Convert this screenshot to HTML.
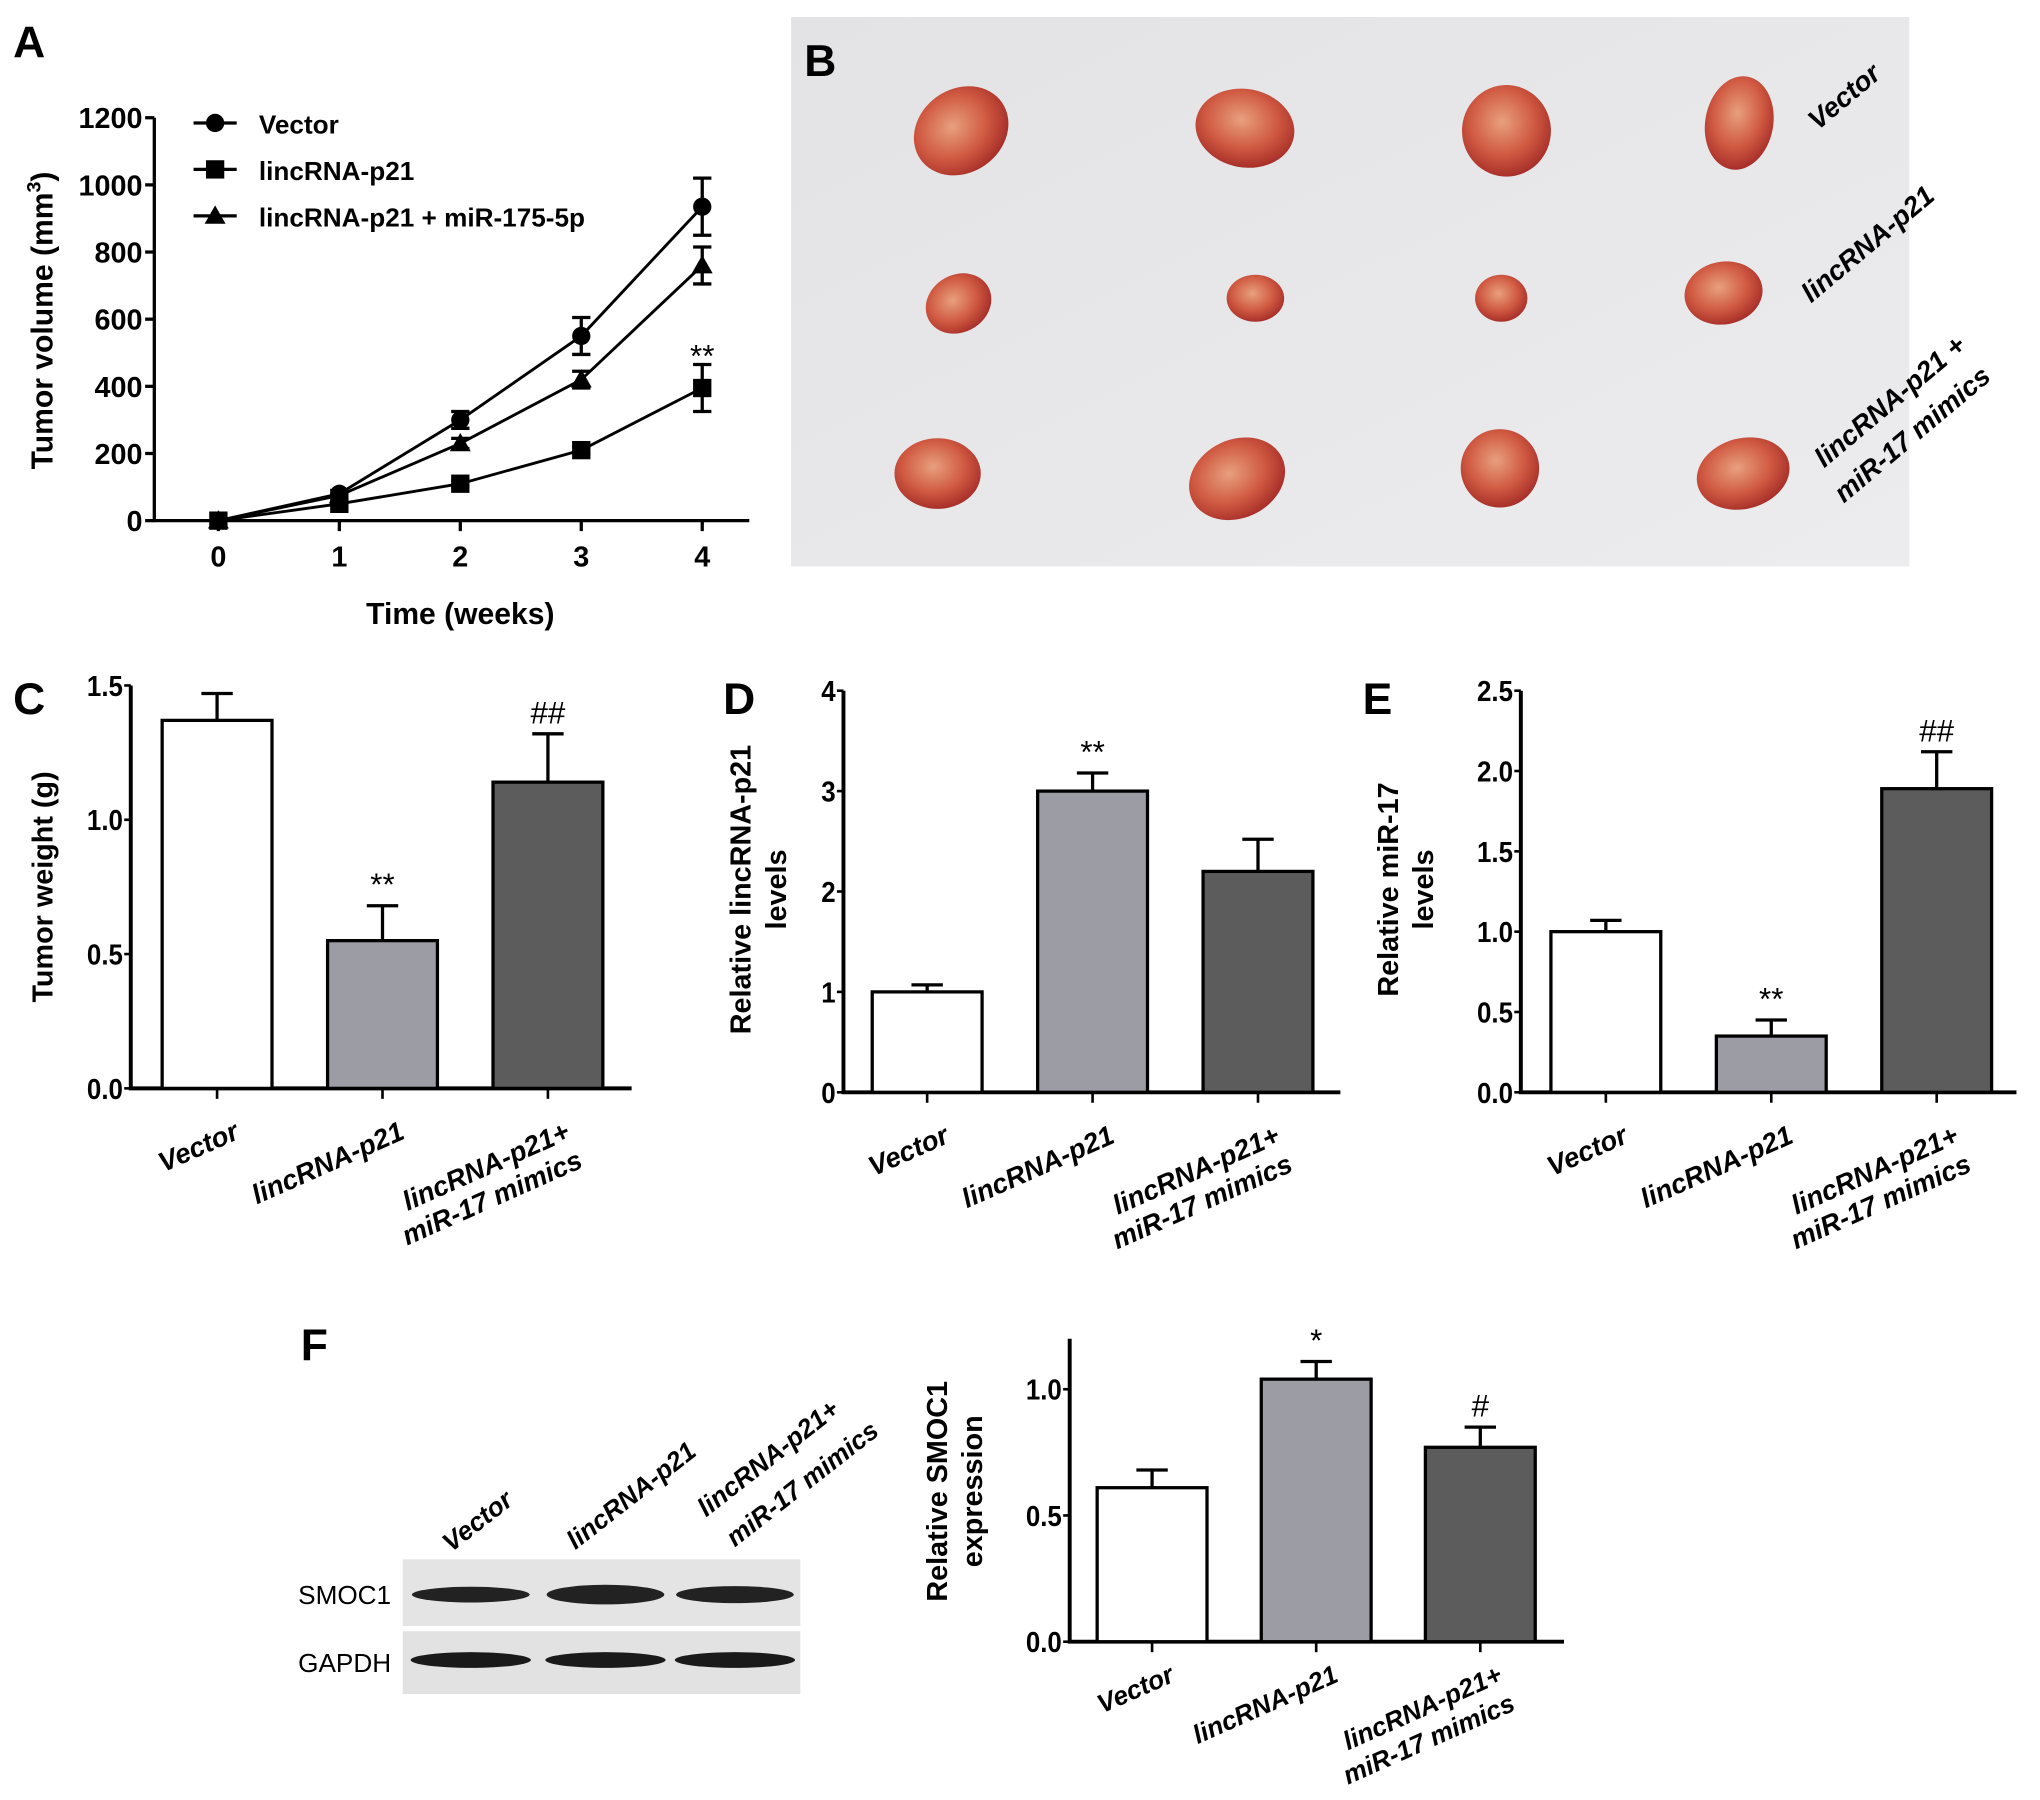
<!DOCTYPE html>
<html><head><meta charset="utf-8"><style>
html,body{margin:0;padding:0;background:#fff;}
svg{display:block;font-family:"Liberation Sans",Arial,sans-serif;}
</style></head><body>
<svg id="fig" width="2040" height="1800" viewBox="0 0 1560 1376" preserveAspectRatio="none">
<defs>
<radialGradient id="tum" cx="45%" cy="40%" r="60%"><stop offset="0" stop-color="#e8a07e"/><stop offset="0.6" stop-color="#d05a42"/><stop offset="1" stop-color="#a8302a"/></radialGradient>
<linearGradient id="photoBg" x1="0" y1="0" x2="1" y2="1"><stop offset="0" stop-color="#e3e3e6"/><stop offset="1" stop-color="#ececee"/></linearGradient>
</defs>
<g id="root"></g>
</svg>
<script>
// ---------- Panel A data ----------
const weeks = [0, 1, 2, 3, 4];
const aTicks = [0, 200, 400, 600, 800, 1000, 1200];
const aSeriesNames = ["Vector", "lincRNA-p21", "lincRNA-p21 + miR-175-5p"];
const vectorVol = [0, 80, 300, 550, 935];
const vectorErr = [0, 10, 25, 55, 85];
const lincVol = [0, 50, 110, 210, 395];
const lincErr = [0, 5, 10, 10, 70];
const mimicVol = [0, 75, 230, 420, 760];
const mimicErr = [0, 5, 15, 25, 55];
// ---------- Bar panels data ----------
const groups = ["Vector", "lincRNA-p21", "lincRNA-p21+|miR-17 mimics"];
const cValues = [1.37, 0.55, 1.14];
const cErrors = [0.10, 0.13, 0.18];
const cTicks = ["0.0", "0.5", "1.0", "1.5"];
const cMarks = ["", "**", "##"];
const dValues = [1.0, 3.0, 2.2];
const dErrors = [0.07, 0.18, 0.32];
const dTicks = ["0", "1", "2", "3", "4"];
const dMarks = ["", "**", ""];
const eValues = [1.0, 0.35, 1.89];
const eErrors = [0.07, 0.10, 0.23];
const eTicks = ["0.0", "0.5", "1.0", "1.5", "2.0", "2.5"];
const eMarks = ["", "**", "##"];
const fValues = [0.61, 1.04, 0.77];
const fErrors = [0.07, 0.07, 0.08];
const fTicks = ["0.0", "0.5", "1.0"];
const fMarks = ["", "*", "#"];

const NS = "http://www.w3.org/2000/svg";
const root = document.getElementById("root");
function mk(tag, attrs, parent, text) {
  const e = document.createElementNS(NS, tag);
  for (const k in attrs) e.setAttribute(k, attrs[k]);
  if (text !== undefined) e.textContent = text;
  (parent || root).appendChild(e);
  return e;
}
function label(txt, x, y, name) {
  const t = mk("text", {x: x, y: y, "font-size": 34, "font-weight": "bold"}, root, txt);
  
  
}
label("A", 10, 44, "panel-a-label");
label("C", 10, 546, "panel-c-label");
label("D", 553, 546, "panel-d-label");
label("E", 1042, 546, "panel-e-label");
label("F", 230, 1040, "panel-f-label");

// ---------- Panel A ----------
(function () {
  const g = mk("g", {});
  
  
  const x0 = 118, xEnd = 573, yBase = 398, yTop = 90;
  const xs = w => 167 + w * 92.5;
  const ys = v => yBase - (v / 1200) * (yBase - yTop);
  const ax = mk("path", {d: `M${x0} ${yTop} V${yBase} H${xEnd}`, stroke: "#000", "stroke-width": 2.5, fill: "none"}, g);
  
  
  aTicks.forEach(v => {
    mk("line", {x1: x0 - 7, x2: x0, y1: ys(v), y2: ys(v), stroke: "#000", "stroke-width": 2.5}, g);
    const t = mk("text", {x: x0 - 9, y: ys(v) + 8, "text-anchor": "end", "font-size": 22, "font-weight": "bold"}, g, v);
    
    
  });
  weeks.forEach(w => {
    mk("line", {x1: xs(w), x2: xs(w), y1: yBase, y2: yBase + 8, stroke: "#000", "stroke-width": 2.5}, g);
    const t = mk("text", {x: xs(w), y: yBase + 35, "text-anchor": "middle", "font-size": 22, "font-weight": "bold"}, g, w);
    
    
  });
  const xt = mk("text", {x: 352, y: 477, "text-anchor": "middle", "font-size": 23, "font-weight": "bold"}, g, "Time (weeks)");
  
  
  const yt = mk("text", {transform: "translate(40 245) rotate(-90)", "text-anchor": "middle", "font-size": 23, "font-weight": "bold"}, g);
  
  
  yt.innerHTML = 'Tumor volume (mm<tspan dy="-9" font-size="15">3</tspan><tspan dy="9">)</tspan>';
  const series = [[vectorVol, vectorErr, "circle"], [lincVol, lincErr, "square"], [mimicVol, mimicErr, "triangle"]];
  function marker(shape, x, y, parent) {
    let m;
    if (shape === "circle") m = mk("circle", {cx: x, cy: y, r: 7, fill: "#000"}, parent);
    else if (shape === "square") m = mk("rect", {x: x - 7, y: y - 7, width: 14, height: 14, fill: "#000"}, parent);
    else m = mk("path", {d: `M${x} ${y - 8} L${x + 8} ${y + 6} L${x - 8} ${y + 6}Z`, fill: "#000"}, parent);
    return m;
  }
  series.forEach((s, si) => {
    const sg = mk("g", {}, g);
    
    
    const pts = weeks.map((w, i) => `${xs(w)},${ys(s[0][i])}`).join(" ");
    mk("polyline", {points: pts, fill: "none", stroke: "#000", "stroke-width": 2.2}, sg);
    weeks.forEach((w, i) => {
      if (s[1][i] > 0) {
        const x = xs(w), y1 = ys(s[0][i] + s[1][i]), y2 = ys(s[0][i] - s[1][i]);
        mk("path", {d: `M${x} ${y1} V${y2} M${x - 7} ${y1} H${x + 7} M${x - 7} ${y2} H${x + 7}`, stroke: "#000", "stroke-width": 2.5, fill: "none"}, sg);
      }
      const m = marker(s[2], xs(w), ys(s[0][i]), sg);
      
      
    });
    const ly = 94 + si * 35.5;
    const lg = mk("g", {}, g);
    
    
    mk("line", {x1: 148, x2: 181, y1: ly, y2: ly, stroke: "#000", "stroke-width": 2.5}, lg);
    marker(s[2], 164.5, ly, lg);
    mk("text", {x: 198, y: ly + 8, "font-size": 20, "font-weight": "bold"}, lg, aSeriesNames[si]);
  });
  const st = mk("text", {x: xs(4), y: 280, "text-anchor": "middle", "font-size": 24}, g, "**");
  
  
})();

// ---------- Panel B (photo) ----------
(function () {
  const g = mk("g", {});
  
  
  mk("rect", {x: 605, y: 13, width: 855, height: 420, fill: "url(#photoBg)"}, g);
  mk("text", {x: 615, y: 58, "font-size": 34, "font-weight": "bold"}, g, "B");
  const tumors = [
    [735,100,38,32,-35],[952,98,38,30,10],[1152,100,34,35,0],[1330,94,26,36,10],
    [733,232,26,22,-30],[960,228,22,18,0],[1148,228,20,18,0],[1318,224,30,24,-10],
    [717,362,33,27,0],[946,366,38,30,-25],[1147,358,30,30,0],[1333,362,36,27,-15]];
  tumors.forEach(t => {
    const e = mk("ellipse", {cx: t[0], cy: t[1], rx: t[2], ry: t[3], fill: "url(#tum)", transform: `rotate(${t[4]} ${t[0]} ${t[1]})`}, g);
    
    
  });
  const lab = [["Vector", 1390, 100], ["lincRNA-p21", 1385, 232], ["lincRNA-p21 +", 1395, 358], ["miR-17 mimics", 1410, 385]];
  lab.forEach(l => {
    const t = mk("text", {transform: `translate(${l[1]} ${l[2]}) rotate(-40)`, "font-size": 21, "font-weight": "bold", "font-style": "italic"}, g, l[0]);
    
    
  });
})();

// ---------- Bar charts ----------
const fills = ["#ffffff", "#9c9ca4", "#5c5c5c"];
function barChart(cfg) {
  const g = mk("g", {});
  
  
  const maxV = parseFloat(cfg.ticks[cfg.ticks.length - 1]);
  const topV = cfg.topV || maxV;
  const ys = v => cfg.y0 - (v / maxV) * (cfg.y0 - cfg.yTop);
  mk("path", {d: `M${cfg.x0} ${ys(topV)} V${cfg.y0} H${cfg.xEnd}`, stroke: "#000", "stroke-width": 3, fill: "none"}, g);
  cfg.ticks.forEach(tv => {
    const y = ys(parseFloat(tv));
    mk("line", {x1: cfg.x0 - 5, x2: cfg.x0, y1: y, y2: y, stroke: "#000", "stroke-width": 2}, g);
    const t = mk("text", {x: cfg.x0 - 6, y: y + 8, "text-anchor": "end", "font-size": 22, "font-weight": "bold", transform: `translate(${cfg.x0 - 6} 0) scale(0.9 1) translate(${-(cfg.x0 - 6)} 0)`}, g, tv);
    
    
  });
  const lblOff = cfg.lblOff || 38, lblFs = cfg.lblFs || 21;
  cfg.values.forEach((v, i) => {
    const cx = cfg.cx0 + i * cfg.step, w = 84;
    const b = mk("rect", {x: cx - w / 2, y: ys(v), width: w, height: cfg.y0 - ys(v), fill: fills[i], stroke: "#000", "stroke-width": 2.5}, g);
    
    
    const ye = ys(v + cfg.errors[i]);
    mk("path", {d: `M${cx} ${ys(v)} V${ye} M${cx - 12} ${ye} H${cx + 12}`, stroke: "#000", "stroke-width": 2.5, fill: "none"}, g);
    mk("line", {x1: cx, x2: cx, y1: cfg.y0, y2: cfg.y0 + 8, stroke: "#000", "stroke-width": 2}, g);
    if (cfg.marks[i]) {
      const m = mk("text", {x: cx, y: ye - 8, "text-anchor": "middle", "font-size": 24}, g, cfg.marks[i]);
      
      
    }
    const parts = groups[i].split("|");
    const lg = mk("text", {transform: `translate(${cx + 18} ${cfg.y0 + lblOff}) rotate(-24)`, "text-anchor": "end", "font-size": lblFs, "font-weight": "bold", "font-style": "italic"}, g);
    
    
    parts.forEach((p, k) => mk("tspan", {x: 0, dy: k ? 24 : 0}, lg, p));
  });
  const tt = mk("text", {transform: `translate(${cfg.tx} ${cfg.ty}) rotate(-90)`, "text-anchor": "middle", "font-size": 22, "font-weight": "bold"}, g);
  
  
  cfg.title.forEach((p, k) => mk("tspan", {x: 0, dy: k ? 27 : 0}, tt, p));
}
barChart({name: "tumor-weight-chart", x0: 100, xEnd: 483, y0: 832, yTop: 524, cx0: 166, step: 126.5, values: cValues, errors: cErrors, ticks: cTicks, marks: cMarks, title: ["Tumor weight (g)"], tx: 40, ty: 678});
barChart({name: "lincrna-levels-chart", x0: 645, xEnd: 1025, y0: 835, yTop: 528, cx0: 709, step: 126.5, values: dValues, errors: dErrors, ticks: dTicks, marks: dMarks, title: ["Relative lincRNA-p21", "levels"], tx: 574, ty: 680});
barChart({name: "mir17-levels-chart", x0: 1163, xEnd: 1542, y0: 835, yTop: 528, cx0: 1228, step: 126.5, values: eValues, errors: eErrors, ticks: eTicks, marks: eMarks, title: ["Relative miR-17", "levels"], tx: 1069, ty: 680});
barChart({name: "smoc1-expression-chart", x0: 818, xEnd: 1196, y0: 1255, yTop: 1062, topV: 1.2, cx0: 881, step: 125.5, values: fValues, errors: fErrors, ticks: fTicks, marks: fMarks, title: ["Relative SMOC1", "expression"], tx: 724, ty: 1140, lblOff: 30, lblFs: 20});

// ---------- Western blot ----------
(function () {
  const g = mk("g", {});
  
  
  mk("rect", {x: 308, y: 1192, width: 304, height: 51, fill: "#e4e4e4"}, g);
  mk("rect", {x: 308, y: 1247, width: 304, height: 48, fill: "#e2e2e2"}, g);
  const lanes = [[360, 8], [463, 11], [562, 9]];
  lanes.forEach(l => {
    const b1 = mk("ellipse", {cx: l[0], cy: 1219, rx: 45, ry: l[1] / 2 + 2, fill: "#222"}, g);
    
    
    const b2 = mk("ellipse", {cx: l[0], cy: 1269, rx: 46, ry: 6, fill: "#1a1a1a"}, g);
    
    
  });
  mk("text", {x: 228, y: 1226, "font-size": 20, "font-family": "Liberation Sans Narrow, Liberation Sans, sans-serif"}, g, "SMOC1");
  mk("text", {x: 228, y: 1278, "font-size": 20, "font-family": "Liberation Sans Narrow, Liberation Sans, sans-serif"}, g, "GAPDH");
  const ll = [["Vector", 345, 1187], ["lincRNA-p21", 440, 1185], ["lincRNA-p21+", 540, 1160], ["miR-17 mimics", 562, 1183]];
  ll.forEach(l => {
    const t = mk("text", {transform: `translate(${l[1]} ${l[2]}) rotate(-38)`, "font-size": 20, "font-weight": "bold", "font-style": "italic"}, g, l[0]);
    
    
  });
})();
</script>
</body></html>
